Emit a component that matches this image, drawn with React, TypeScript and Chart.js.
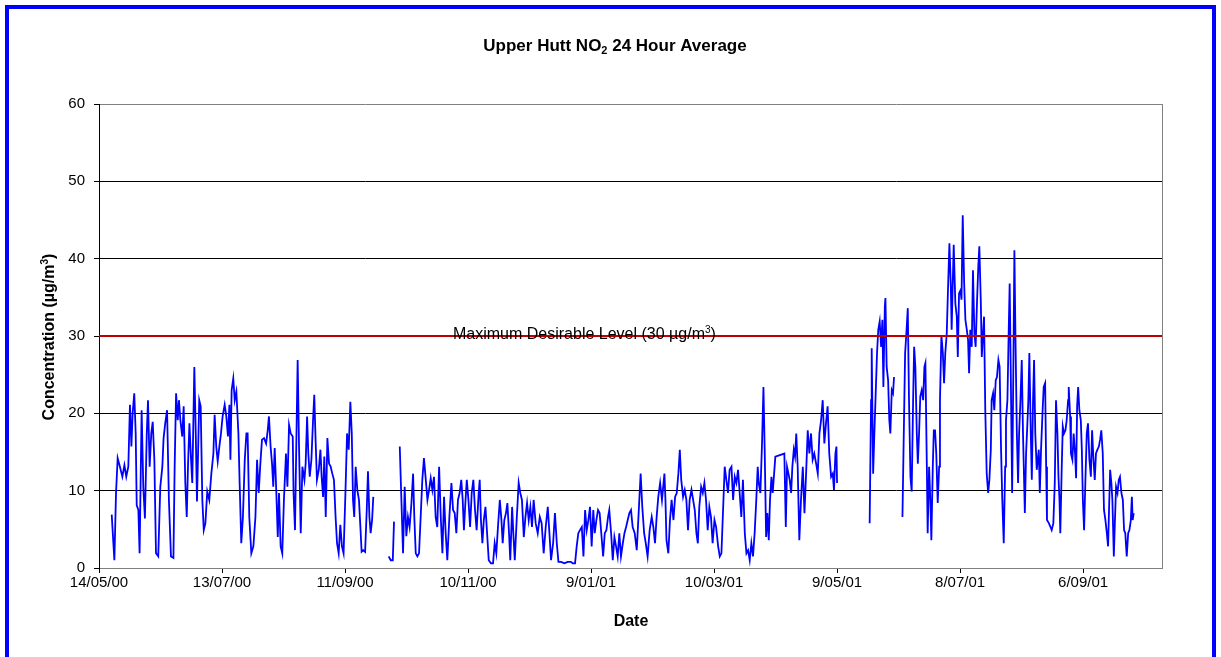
import React, { useEffect, useRef } from "react";
import { Chart, registerables } from "chart.js";

Chart.register(...registerables);

// ---------------- data ----------------
// x axis: days since 14/05/00; ticks every 60 days
const xTickLabels = ["14/05/00", "13/07/00", "11/09/00", "10/11/00", "9/01/01", "10/03/01", "9/05/01", "8/07/01", "6/09/01"];
const X_TICK_STEP = 60;
const X_MAX_DAY = 518.5;
const yTickMax = 60;
const yTickStep = 10;
const limitValue = 30;
const limitLabel = "Maximum Desirable Level (30 \u00b5g/m";

const days: number[] = [
  6.2, 7.5, 8.3, 9.1, 10.2, 11.4, 12.4, 13.3, 14.3, 15.1,
  15.8, 16.4, 17.2, 17.9, 18.4, 19.2, 19.8, 20.8, 21.6, 22.4,
  23.3, 23.9, 24.7, 25.5, 26.2, 27.0, 27.8, 28.9, 29.9, 30.9,
  31.5, 32.3, 33.2, 34.1, 35.1, 36.3, 36.9, 37.6, 38.4, 39.0,
  39.7, 40.6, 41.3, 42.1, 42.8, 43.4, 44.1, 44.9, 45.5, 46.5,
  47.2, 47.8, 48.9, 49.6, 50.4, 51.1, 51.9, 52.8, 53.8, 54.8,
  55.8, 56.4, 57.2, 57.9, 58.7, 59.5, 60.3, 61.3, 62.1, 62.9,
  63.6, 64.1, 64.7, 65.5, 66.2, 67.0, 68.0, 68.6, 69.4, 70.2,
  71.1, 71.9, 72.5, 73.3, 74.3, 75.3, 76.3, 77.1, 77.9, 78.7,
  79.5, 80.5, 81.5, 82.3, 82.9, 83.7, 84.4, 85.0, 85.7, 86.5,
  87.2, 87.8, 88.6, 89.4, 90.2, 91.2, 91.9, 92.7, 93.5, 94.5,
  94.9, 95.6, 96.2, 96.9, 97.6, 98.4, 99.2, 100.2, 100.8, 101.5,
  102.1, 102.8, 103.6, 104.4, 105.0, 105.7, 106.3, 107.2, 108.0, 108.6,
  109.3, 109.9, 110.6, 111.4, 112.2, 113.0, 113.8, 114.6, 115.4, 116.1,
  116.9, 117.7, 118.5, 119.3, 120.2, 121.0, 121.8, 122.6, 123.3, 123.9,
  124.5, 125.2, 126.0, 126.8, 127.5, 128.1, 128.9, 129.8, 130.6, 131.2,
  131.9, 132.5, 133.2, 133.8, 137.5, 141.3, 142.3, 143.3, 143.9, 145.3,
  146.7, 147.5, 148.3, 149.1, 149.9, 150.7, 151.5, 152.4, 153.2, 153.8,
  154.5, 155.3, 156.1, 156.9, 157.7, 158.5, 159.4, 160.2, 161.0, 161.8,
  162.6, 163.4, 164.2, 165.0, 165.9, 166.7, 167.5, 168.3, 169.1, 169.9,
  170.9, 171.9, 172.7, 173.5, 174.3, 175.1, 175.9, 176.7, 177.4, 178.0,
  178.7, 179.4, 180.2, 181.0, 181.8, 182.6, 183.4, 184.2, 185.2, 185.7,
  186.3, 187.0, 187.7, 188.5, 189.3, 190.1, 191.2, 192.2, 193.0, 193.8,
  194.6, 195.5, 196.3, 196.9, 197.7, 198.5, 199.2, 200.0, 200.6, 201.5,
  202.1, 202.8, 203.8, 204.7, 205.5, 206.3, 207.2, 208.0, 208.8, 209.6,
  210.4, 211.2, 212.0, 213.0, 214.0, 215.0, 215.9, 216.9, 217.9, 218.9,
  219.7, 220.5, 221.5, 222.4, 223.3, 224.1, 225.4, 227.0, 228.6, 230.2,
  231.1, 232.2, 233.0, 233.8, 234.6, 235.5, 236.3, 237.1, 237.9, 238.7,
  239.5, 240.3, 241.1, 241.8, 242.6, 243.4, 244.2, 245.0, 245.9, 246.7,
  247.5, 248.3, 248.9, 249.8, 250.6, 251.4, 252.2, 253.0, 253.8, 254.6,
  255.5, 256.3, 257.1, 257.9, 258.7, 259.5, 260.3, 261.3, 262.3, 263.3,
  264.2, 265.0, 265.9, 266.7, 267.6, 268.6, 269.6, 270.4, 271.2, 272.0,
  272.8, 273.7, 274.6, 275.8, 276.3, 276.8, 277.7, 278.5, 279.3, 280.2,
  281.0, 281.8, 282.6, 283.3, 284.0, 284.9, 285.7, 286.5, 287.3, 288.1,
  289.0, 289.8, 290.6, 291.4, 292.1, 292.8, 293.7, 294.5, 295.3, 296.1,
  296.9, 297.7, 298.5, 299.3, 300.2, 301.0, 302.0, 302.8, 303.6, 304.4,
  305.2, 306.0, 306.8, 307.6, 308.5, 309.3, 310.1, 310.9, 311.7, 312.5,
  313.3, 314.1, 315.0, 315.8, 316.6, 317.4, 318.2, 319.0, 319.8, 320.6,
  321.3, 321.8, 322.6, 323.4, 324.1, 324.7, 325.4, 326.0, 326.7, 327.3,
  328.0, 328.6, 329.3, 329.9, 334.3, 335.0, 335.6, 336.3, 336.9, 337.6,
  338.2, 338.9, 339.5, 340.1, 340.8, 341.6, 342.4, 343.3, 344.1, 344.9,
  345.7, 346.5, 347.3, 348.1, 348.9, 349.8, 350.6, 351.4, 352.2, 353.0,
  353.8, 354.6, 355.4, 356.2, 357.1, 357.9, 358.5, 359.2, 359.7, 360.0,
  368.0, 375.9, 376.6, 376.9, 377.6, 378.2, 378.9, 379.5, 380.1, 380.8,
  381.5, 382.1, 382.6, 383.3, 383.6, 384.2, 384.9, 385.5, 386.0, 386.7,
  387.3, 387.8, 390.0, 391.9, 392.5, 393.2, 393.8, 394.5, 395.1, 395.8,
  396.4, 397.1, 397.6, 398.2, 398.9, 399.4, 400.0, 400.6, 401.3, 402.0,
  402.6, 403.1, 403.8, 404.2, 404.9, 405.5, 406.0, 406.7, 407.2, 407.8,
  408.4, 409.1, 409.8, 410.2, 410.9, 411.6, 412.2, 412.8, 413.5, 414.1,
  414.8, 415.5, 415.9, 416.4, 416.9, 417.7, 418.4, 418.9, 419.5, 420.2,
  420.7, 421.3, 422.0, 422.6, 423.3, 423.9, 424.4, 425.0, 425.7, 426.3,
  427.0, 427.6, 428.3, 428.9, 429.4, 430.1, 430.6, 431.2, 431.7, 432.3,
  433.0, 433.7, 434.3, 435.0, 435.4, 436.1, 436.7, 437.4, 438.0, 438.7,
  439.3, 440.0, 440.6, 441.3, 442.0, 442.4, 443.1, 443.7, 444.2, 444.7,
  445.4, 446.0, 446.5, 447.0, 447.7, 448.3, 448.8, 449.4, 450.1, 450.7,
  451.6, 452.2, 452.7, 453.3, 453.8, 454.5, 455.0, 455.6, 456.1, 456.7,
  457.4, 458.4, 458.9, 459.5, 460.2, 460.8, 461.5, 462.0, 462.4, 463.3,
  464.1, 464.7, 465.5, 466.2, 466.8, 467.5, 468.0, 468.5, 468.9, 469.6,
  470.1, 470.7, 471.4, 472.0, 472.7, 473.0, 473.7, 474.1, 474.8, 475.4,
  476.1, 476.6, 477.1, 477.6, 478.2, 478.9, 479.4, 479.9, 480.5, 481.1,
  481.8, 482.4, 483.1, 483.8, 484.4, 485.0, 485.7, 486.3, 487.0, 487.7,
  488.3, 488.9, 489.6, 490.2, 490.9, 491.6, 492.2, 492.7, 493.2, 493.8,
  494.3, 495.0, 495.5, 496.1, 496.8, 497.4, 498.0, 498.7, 499.4, 500.0,
  500.6, 501.3, 502.0, 502.6, 503.3, 503.8, 504.2, 504.7,
];

const no2: (number | null)[] = [
  6.9, 1.0, 9.7, 14.2, 13.1, 11.8, 13.3, 11.8, 13.1, 21.1,
  15.7, 20.0, 22.6, 17.4, 8.1, 7.5, 1.9, 20.4, 10.5, 6.4,
  17.4, 21.7, 13.1, 17.4, 18.9, 14.0, 1.9, 1.5, 10.5, 13.1,
  16.8, 18.7, 20.4, 8.8, 1.5, 1.3, 13.1, 22.6, 19.1, 21.7,
  19.1, 17.0, 20.9, 11.0, 6.6, 13.1, 18.7, 14.0, 11.0, 26.0,
  17.4, 8.6, 21.7, 20.9, 8.8, 4.9, 5.8, 9.9, 8.8, 12.2,
  14.8, 19.8, 15.7, 13.8, 15.7, 17.4, 19.6, 21.1, 19.6, 17.0,
  21.1, 14.0, 23.0, 24.5, 21.7, 22.8, 17.4, 11.0, 3.2, 6.6,
  14.0, 17.4, 17.4, 6.6, 1.9, 2.8, 6.6, 14.0, 9.7, 13.5,
  16.6, 16.8, 16.1, 17.8, 19.6, 15.7, 13.5, 10.5, 15.5, 9.7,
  4.0, 9.7, 2.8, 1.9, 8.8, 14.8, 10.5, 18.5, 17.4, 17.0,
  9.7, 4.9, 15.3, 26.9, 15.3, 4.5, 13.1, 11.4, 13.5, 19.6,
  14.8, 11.8, 14.0, 19.1, 22.4, 16.1, 11.4, 12.7, 15.3, 11.8,
  9.2, 14.4, 6.6, 16.8, 13.5, 13.1, 12.2, 11.4, 6.6, 3.2,
  1.9, 5.6, 2.8, 1.9, 9.7, 17.4, 15.3, 21.5, 17.4, 8.8,
  6.6, 13.1, 10.1, 8.8, 5.3, 2.1, 2.3, 2.1, 7.5, 12.5,
  6.6, 4.5, 6.2, 9.2, null, 1.5, 1.0, 1.0, 6.0, null,
  15.7, 8.8, 1.9, 10.5, 4.1, 6.6, 5.3, 8.4, 12.2, 6.6,
  1.9, 1.5, 1.9, 6.6, 11.4, 14.2, 11.4, 8.8, 10.1, 11.6,
  10.1, 11.8, 6.6, 5.3, 13.1, 6.6, 1.9, 9.2, 4.5, 1.0,
  6.6, 11.0, 7.5, 7.1, 4.5, 8.8, 9.7, 11.4, 8.8, 4.9,
  8.4, 11.4, 8.8, 5.3, 9.7, 11.4, 7.5, 4.9, 9.7, 11.4,
  6.2, 3.2, 6.2, 7.9, 4.5, 1.0, 0.6, 0.6, 3.2, 1.9,
  5.3, 8.8, 6.2, 3.2, 6.2, 7.1, 8.4, 4.5, 1.0, 7.9,
  4.5, 1.0, 6.6, 11.0, 9.7, 8.8, 4.0, 6.6, 8.4, 6.2,
  7.9, 5.3, 8.8, 5.8, 4.5, 6.6, 5.8, 1.9, 5.3, 7.9,
  4.5, 1.0, 3.2, 7.1, 3.2, 0.8, 0.8, 0.6, 0.8, 0.8,
  0.6, 0.6, 2.8, 4.5, 4.9, 5.3, 1.5, 7.5, 4.9, 6.2,
  7.9, 2.8, 7.5, 4.5, 6.2, 7.5, 7.1, 4.5, 1.5, 4.5,
  4.9, 6.6, 7.5, 4.5, 1.0, 4.0, 2.8, 1.5, 4.5, 1.5,
  3.2, 4.5, 5.3, 6.2, 7.1, 7.5, 5.3, 4.5, 2.3, 7.5,
  12.2, 7.9, 4.5, 3.2, 1.5, 4.9, 6.6, 5.3, 3.2, 6.6,
  9.2, 11.0, 8.8, 12.2, 8.8, 3.6, 1.9, 6.2, 8.8, 6.2,
  9.2, 9.7, 12.2, 15.3, 11.4, 9.2, 10.1, 8.8, 4.9, 8.8,
  10.1, 8.8, 7.5, 4.5, 3.2, 7.9, 10.5, 9.7, 11.0, 8.8,
  4.9, 7.9, 6.6, 3.2, 6.2, 5.3, 2.8, 1.5, 1.9, 7.5,
  13.1, 11.4, 9.7, 12.7, 13.1, 8.8, 11.8, 11.0, 12.7, 9.7,
  6.6, 11.4, 4.5, 1.9, 2.3, 1.0, 3.2, 1.5, 4.5, 8.8,
  13.1, 11.0, 9.7, 16.1, 23.4, 15.3, 4.0, 7.1, 3.6, 8.8,
  11.8, 9.7, 12.2, 14.4, 14.8, 5.3, 13.1, 12.2, 11.4, 9.7,
  13.1, 15.3, 14.4, 17.4, 13.1, 3.6, 8.8, 13.1, 7.1, 12.2,
  17.8, 14.8, 17.4, 14.0, 14.8, 13.5, 12.2, 17.4, 19.1, 21.7,
  16.1, 18.7, 20.9, 14.8, 11.8, 12.2, 10.1, 14.8, 15.7, 11.0,
  null, 5.8, 21.7, 28.4, 12.2, 17.4, 23.0, 27.8, 30.8, 31.9,
  28.6, 32.1, 23.4, 33.8, 34.9, 26.0, 24.3, 19.1, 17.4, 23.0,
  22.6, 24.7, null, 6.6, 16.6, 27.8, 30.3, 33.6, 21.7, 11.8,
  9.9, 21.7, 28.6, 26.0, 17.4, 13.5, 17.4, 22.2, 23.0, 21.7,
  26.0, 26.5, 13.1, 4.5, 13.1, 8.8, 3.6, 13.1, 17.8, 17.8,
  14.8, 8.4, 13.1, 21.7, 30.1, 27.8, 23.9, 27.8, 30.3, 35.9,
  42.0, 36.4, 30.8, 36.4, 41.8, 34.2, 32.5, 27.3, 35.5, 35.9,
  34.7, 45.6, 36.8, 32.1, 30.8, 29.5, 25.2, 30.8, 28.6, 38.5,
  30.3, 28.6, 34.7, 39.0, 41.6, 34.7, 27.3, 30.3, 32.5, 20.4,
  12.2, 9.7, 11.4, 15.3, 21.7, 22.6, 20.4, 24.3, 24.7, 26.9,
  26.0, 15.3, 8.8, 3.2, 13.1, 19.1, 21.7, 30.3, 36.8, 26.0,
  9.7, 26.0, 41.1, 30.3, 17.4, 11.0, 17.4, 21.3, 26.9, 17.4,
  7.1, 14.8, 17.8, 21.7, 27.8, 17.4, 11.4, 21.7, 26.9, 17.4,
  12.7, 15.3, 9.7, 15.3, 20.0, 23.4, 23.9, 13.1, 6.2, 5.8,
  5.3, 4.9, 5.8, 11.0, 21.7, 17.4, 11.8, 8.8, 4.5, 13.1,
  18.3, 17.4, 17.8, 19.1, 21.7, 23.4, 19.6, 14.8, 14.0, 17.4,
  14.8, 11.6, 20.9, 23.4, 20.4, 19.1, 15.3, 8.8, 4.9, 11.0,
  17.4, 18.7, 14.0, 11.8, 17.8, 14.4, 11.4, 14.8, 15.3, 15.7,
  16.6, 17.8, 14.8, 7.5, 6.2, 4.5, 2.8, 7.9, 12.7, 11.0,
  8.8, 1.5, 5.8, 10.5, 9.7, 11.4, 11.8, 9.7, 8.8, 4.9,
  4.5, 1.5, 4.5, 4.9, 6.2, 9.2, 6.2, 7.1,
];

const FONT = '"Liberation Sans", Arial, Helvetica, sans-serif';

export default function App() {
  const canvasRef = useRef<HTMLCanvasElement>(null);

  useEffect(() => {
    const canvas = canvasRef.current;
    if (!canvas) return;
    const n = Math.min(days.length, no2.length);
    const series: { x: number; y: number | null }[] = [];
    for (let i = 0; i < n; i++) series.push({ x: days[i], y: no2[i] });
    const limitLine = [
      { x: 0, y: limitValue },
      { x: X_MAX_DAY, y: limitValue },
    ];

    const decorPlugin = {
      id: "decor",
      beforeDraw(chart: any) {
        const { ctx, width, height } = chart;
        ctx.save();
        ctx.fillStyle = "#ffffff";
        ctx.fillRect(0, 0, width, height);
        ctx.strokeStyle = "#0000ff";
        ctx.lineWidth = 4;
        ctx.strokeRect(7, 7, 1207, 700);
        ctx.restore();
      },
      beforeDatasetsDraw(chart: any) {
        const { ctx, chartArea } = chart;
        ctx.save();
        ctx.strokeStyle = "#808080";
        ctx.lineWidth = 1;
        ctx.beginPath();
        ctx.moveTo(chartArea.right + 0.5, chartArea.top);
        ctx.lineTo(chartArea.right + 0.5, chartArea.bottom);
        ctx.stroke();
        ctx.restore();
      },
      afterDatasetsDraw(chart: any) {
        const { ctx, scales } = chart;
        ctx.save();
        ctx.fillStyle = "#000";
        ctx.textBaseline = "alphabetic";
        ctx.textAlign = "left";
        // limit label
        const ly = scales.y.getPixelForValue(limitValue) + 2.5;
        ctx.font = `16px ${FONT}`;
        let lx = 453;
        ctx.fillText(limitLabel, lx, ly);
        lx += ctx.measureText(limitLabel).width;
        ctx.font = `10px ${FONT}`;
        ctx.fillText("3", lx, ly - 6);
        lx += ctx.measureText("3").width;
        ctx.font = `16px ${FONT}`;
        ctx.fillText(")", lx, ly);

        // title with subscript
        const t1 = "Upper Hutt NO";
        const t2 = "2";
        const t3 = " 24 Hour Average";
        ctx.font = `bold 17px ${FONT}`;
        const w1 = ctx.measureText(t1).width;
        const w3 = ctx.measureText(t3).width;
        ctx.font = `bold 11px ${FONT}`;
        const w2 = ctx.measureText(t2).width;
        let tx = 615 - (w1 + w2 + w3) / 2;
        const ty = 51;
        ctx.font = `bold 17px ${FONT}`;
        ctx.fillText(t1, tx, ty);
        tx += w1;
        ctx.font = `bold 11px ${FONT}`;
        ctx.fillText(t2, tx, ty + 3);
        tx += w2;
        ctx.font = `bold 17px ${FONT}`;
        ctx.fillText(t3, tx, ty);

        // x axis title
        ctx.textAlign = "center";
        ctx.font = `bold 16px ${FONT}`;
        ctx.fillText("Date", 631, 626);

        // y axis title (rotated) with superscript
        ctx.translate(54, 337);
        ctx.rotate(-Math.PI / 2);
        const y1 = "Concentration (\u00b5g/m";
        const y2 = "3";
        const y3 = ")";
        ctx.font = `bold 16px ${FONT}`;
        const a1 = ctx.measureText(y1).width;
        const a3 = ctx.measureText(y3).width;
        ctx.font = `bold 10px ${FONT}`;
        const a2 = ctx.measureText(y2).width;
        let yx = -(a1 + a2 + a3) / 2;
        ctx.textAlign = "left";
        ctx.font = `bold 16px ${FONT}`;
        ctx.fillText(y1, yx, 0);
        yx += a1;
        ctx.font = `bold 10px ${FONT}`;
        ctx.fillText(y2, yx, -6);
        yx += a2;
        ctx.font = `bold 16px ${FONT}`;
        ctx.fillText(y3, yx, 0);
        ctx.restore();
      },
    };

    const chart = new Chart(canvas, {
      type: "line",
      data: {
        datasets: [
          {
            label: "Maximum Desirable Level",
            data: limitLine,
            borderColor: "#c00000",
            borderWidth: 2,
            pointRadius: 0,
            order: 0,
          },
          {
            label: "NO2 24 hour average",
            data: series,
            borderColor: "#0000ff",
            borderWidth: 1.8,
            pointRadius: 0,
            tension: 0,
            spanGaps: false,
            order: 1,
          },
        ],
      },
      options: {
        responsive: false,
        animation: false,
        events: [],
        layout: { padding: { left: 0, right: 59, top: 104, bottom: 59 } },
        plugins: {
          legend: { display: false },
          title: { display: false },
          tooltip: { enabled: false },
        },
        scales: {
          x: {
            type: "linear",
            min: 0,
            max: X_MAX_DAY,
            afterFit: (s: any) => {
              s.height = 30;
            },
            afterBuildTicks: (s: any) => {
              s.ticks = s.ticks.filter((t: any) => Math.abs(t.value % X_TICK_STEP) < 1e-6);
            },
            ticks: {
              stepSize: X_TICK_STEP,
              autoSkip: false,
              maxRotation: 0,
              padding: 1,
              color: "#000",
              font: { family: FONT, size: 15 },
              callback: (v: any) => xTickLabels[Math.round(Number(v) / X_TICK_STEP)] ?? "",
            },
            grid: {
              drawOnChartArea: false,
              drawTicks: true,
              tickLength: 5,
              color: "#000",
            },
            border: { display: true, color: "#808080", width: 1 },
          },
          y: {
            type: "linear",
            min: 0,
            max: yTickMax,
            afterFit: (s: any) => {
              s.width = 99;
            },
            ticks: {
              stepSize: yTickStep,
              padding: 9,
              color: "#000",
              font: { family: FONT, size: 15 },
            },
            grid: {
              color: (c: any) => (c.tick && (c.tick.value === 0 || c.tick.value === yTickMax) ? "#808080" : "#000"),
              tickColor: "#000",
              tickLength: 5,
              lineWidth: 1,
            },
            border: { display: true, color: "#000", width: 1 },
          },
        },
      },
      plugins: [decorPlugin],
    });

    return () => {
      chart.destroy();
    };
  }, []);

  return (
    <div style={{ position: "absolute", left: 0, top: 0, width: 1221, height: 657, overflow: "hidden", background: "#fff" }}>
      <canvas ref={canvasRef} width={1221} height={657} style={{ display: "block" }} />
    </div>
  );
}
